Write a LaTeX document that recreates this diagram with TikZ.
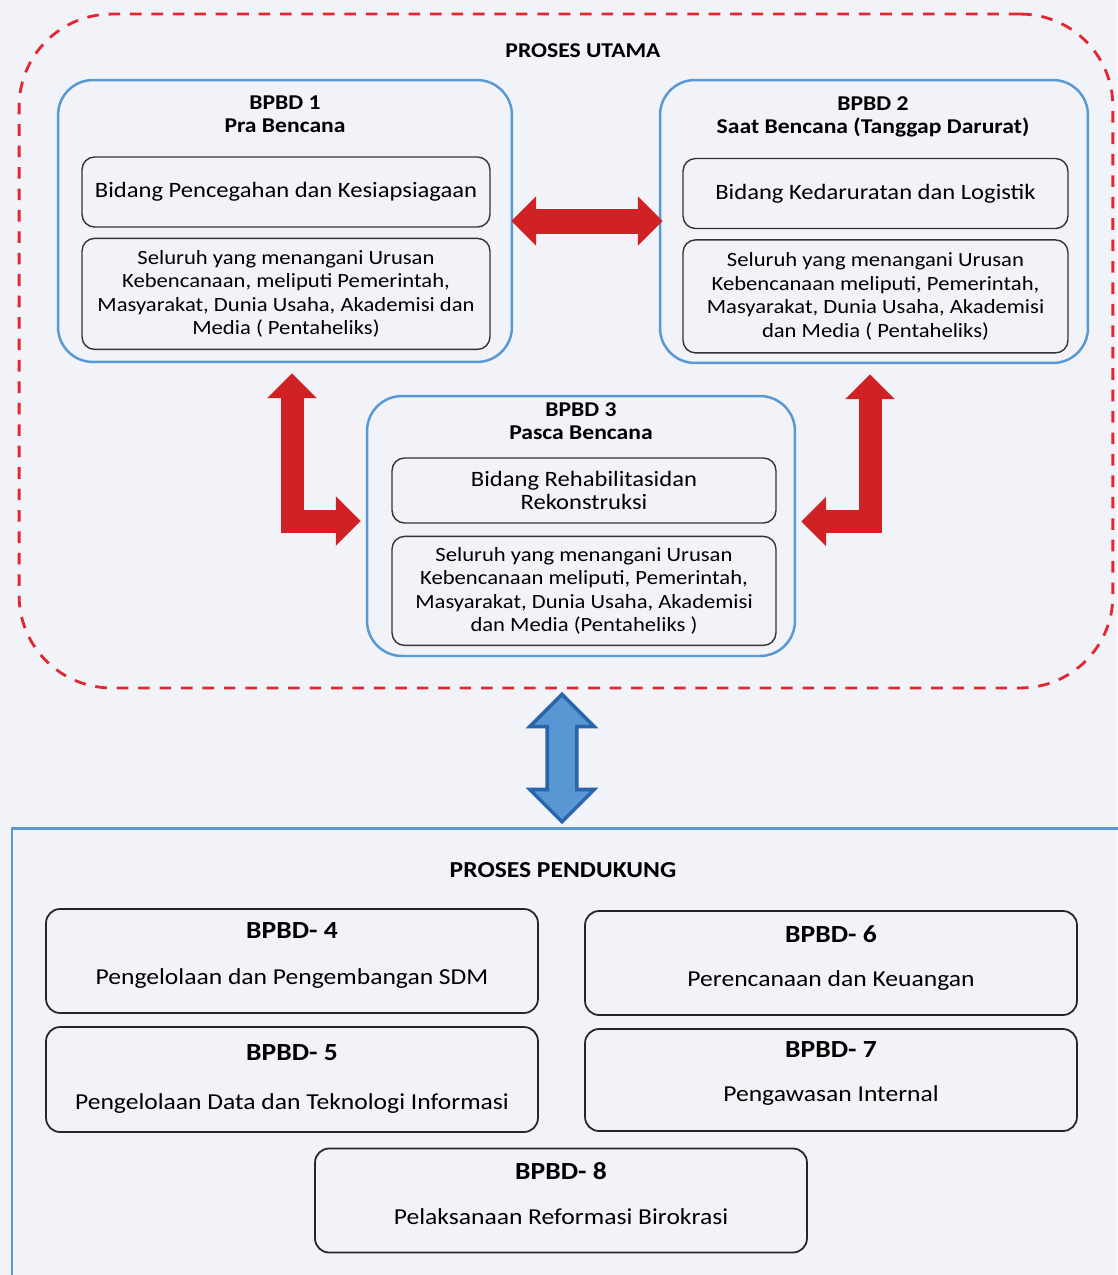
\documentclass[tikz,border=0pt]{standalone}
\usepackage{fontspec}
\setmainfont{Carlito}[FakeStretch=1.12]
\usetikzlibrary{arrows.meta, positioning, calc, shapes.arrows}

\definecolor{dashred}{RGB}{228,38,50}
\definecolor{arrred}{RGB}{208,34,36}
\definecolor{boxblue}{RGB}{88,152,212}
\definecolor{arrblue}{RGB}{88,150,212}
\definecolor{arrblueline}{RGB}{42,100,172}
\definecolor{paper}{RGB}{241,243,248}

\begin{document}
\begin{tikzpicture}[x=0.02cm, y=-0.02cm,
    region/.style={draw=dashred, line width=1.6pt, dash pattern=on 6.6pt off 5.6pt, rounded corners=1.85cm, inner sep=0pt},
    unit/.style={draw=boxblue, line width=1.4pt, rounded corners=0.7cm, inner sep=0pt},
    sub/.style={draw=black!80, line width=0.8pt, rounded corners=0.25cm, align=center, inner sep=2pt},
    ttl/.style={align=center, font=\fontsize{12}{13}\selectfont\bfseries},
    bidang/.style={sub, minimum height=1.4cm, font=\fontsize{12.5}{12.6}\selectfont},
    seluruh/.style={sub, font=\fontsize{11.5}{13.3}\selectfont},
    pbox/.style={draw=black!85, line width=1pt, rounded corners=0.28cm, minimum width=9.84cm, minimum height=2.08cm},
    pttl/.style={font=\fontsize{14}{16}\selectfont\bfseries, text height=0.64em, text depth=0pt},
    psub/.style={font=\fontsize{13}{15}\selectfont, text height=0.72em, text depth=0.2em},
    redarrow/.style={arrred, line width=0.46cm, line join=miter, {Triangle[length=0.5cm, width=0.96cm]}-{Triangle[length=0.5cm, width=0.96cm]}},
    link/.style={double arrow, shape border rotate=90, draw=arrblueline, fill=arrblue, line width=2pt, inner sep=0.26cm, minimum height=2.55cm, minimum width=1.26cm, double arrow head extend=0.35cm}
]
\fill[paper] (0,0) rectangle (1117,1275);
\useasboundingbox (0,0) rectangle (1117,1275);

% Proses utama
\node[region, minimum width=21.88cm, minimum height=13.48cm] (utama) at (566,351) {};
\node[font=\fontsize{12}{14}\selectfont\bfseries] (utamatitle) at (583,51) {PROSES UTAMA};

% BPBD 1
\node[unit, minimum width=9.08cm, minimum height=5.64cm] (bpbd1) at (285,221) {};
\node[ttl] (bpbd1title) at (285,114.5) {BPBD 1\\Pra Bencana};
\node[bidang, minimum width=8.16cm] (bpbd1a) at (286,192) {Bidang Pencegahan dan Kesiapsiagaan};
\node[seluruh, minimum width=8.16cm, minimum height=2.22cm, below=0.2cm of bpbd1a] (bpbd1b) {Seluruh yang menangani Urusan\\Kebencanaan, meliputi Pemerintah,\\Masyarakat, Dunia Usaha, Akademisi dan\\Media ( Pentaheliks)};

% BPBD 2
\node[unit, minimum width=8.56cm, minimum height=5.66cm] (bpbd2) at (874,221.5) {};
\node[ttl] (bpbd2title) at (873,117) {BPBD 2\\Saat Bencana (Tanggap Darurat)};
\node[bidang, minimum width=7.7cm] (bpbd2a) at (875.5,193.5) {Bidang Kedaruratan dan Logistik};
\node[seluruh, minimum width=7.7cm, minimum height=2.26cm, below=0.2cm of bpbd2a] (bpbd2b) {Seluruh yang menangani Urusan\\Kebencanaan meliputi, Pemerintah,\\Masyarakat, Dunia Usaha, Akademisi\\dan Media ( Pentaheliks)};

% BPBD 3
\node[unit, minimum width=8.56cm, minimum height=5.2cm] (bpbd3) at (581,526) {};
\node[ttl] (bpbd3title) at (581,421) {BPBD 3\\Pasca Bencana};
\node[bidang, minimum width=7.68cm, minimum height=1.3cm] (bpbd3a) at (584,490.5) {Bidang Rehabilitasidan\\Rekonstruksi};
\node[seluruh, minimum width=7.68cm, minimum height=2.18cm, below=0.24cm of bpbd3a] (bpbd3b) {Seluruh yang menangani Urusan\\Kebencanaan meliputi, Pemerintah,\\Masyarakat, Dunia Usaha, Akademisi\\dan Media (Pentaheliks )};

% red links between the three stages
\draw[redarrow, line width=0.5cm] ($(bpbd1.east)+(-2,0)$) -- ($(bpbd1.east -| bpbd2.west)+(4,0)$);
\draw[redarrow] ($(bpbd1.south)+(7,10)$) |- ($(bpbd3.west)+(-5,-5)$);
\draw[redarrow] ($(bpbd2.south)+(-4,10)$) |- ($(bpbd3.east)+(5,-4.5)$);

% Proses pendukung
\draw[draw=boxblue, line width=1.7pt] (12,828) rectangle (1130,1290);
\node[font=\fontsize{13}{15}\selectfont\bfseries] (pendukungtitle) at (563,870) {PROSES PENDUKUNG};
\node[link] (utamalink) at (562,758) {};

\node[pbox] (bpbd4) at (292,961) {};
\node[pttl] at ($(bpbd4.center)+(0,-28)$) {BPBD- 4};
\node[psub] at ($(bpbd4.center)+(0,19)$) {Pengelolaan dan Pengembangan SDM};

\node[pbox] (bpbd6) at (831,963) {};
\node[pttl] at ($(bpbd6.center)+(0,-26)$) {BPBD- 6};
\node[psub] at ($(bpbd6.center)+(0,19)$) {Perencanaan dan Keuangan};

\node[pbox, minimum height=2.1cm] (bpbd5) at (292,1079.5) {};
\node[pttl] at ($(bpbd5.center)+(0,-24.5)$) {BPBD- 5};
\node[psub] at ($(bpbd5.center)+(0,25.5)$) {Pengelolaan Data dan Teknologi Informasi};

\node[pbox, minimum height=2.04cm] (bpbd7) at (831,1080) {};
\node[pttl] at ($(bpbd7.center)+(0,-28)$) {BPBD- 7};
\node[psub] at ($(bpbd7.center)+(0,17)$) {Pengawasan Internal};

\node[pbox] (bpbd8) at (561,1200.5) {};
\node[pttl] at ($(bpbd8.center)+(0,-26.5)$) {BPBD- 8};
\node[psub] at ($(bpbd8.center)+(0,19.5)$) {Pelaksanaan Reformasi Birokrasi};

\end{tikzpicture}
\end{document}
